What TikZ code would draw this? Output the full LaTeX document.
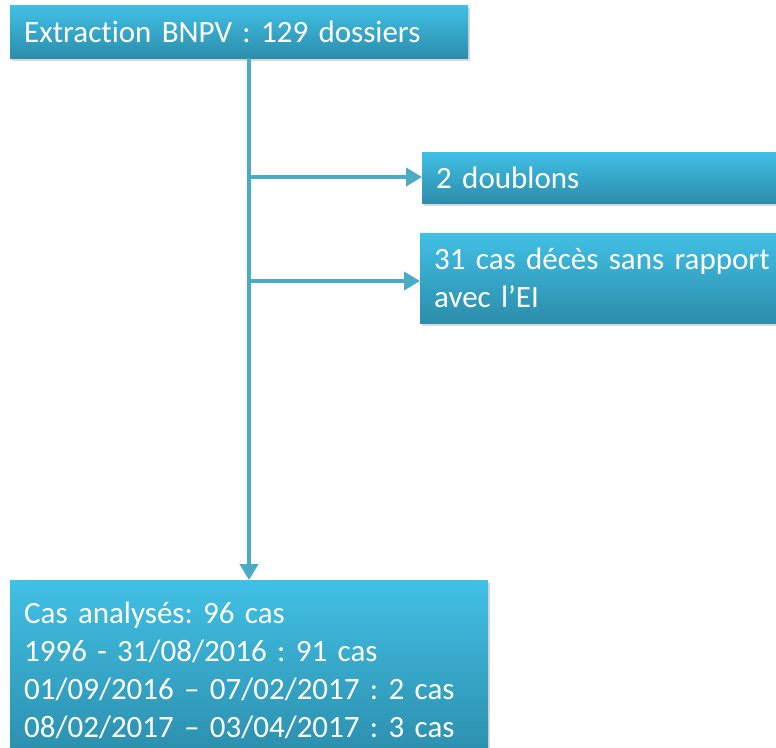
\documentclass[tikz,border=0pt]{standalone}
\usepackage{xcolor}
\usepackage{fontspec}
\setmainfont[Ligatures=NoCommon]{Carlito}
\frenchspacing
\usetikzlibrary{shadows, arrows.meta, positioning}

\definecolor{boxtop}{HTML}{41C0E5}
\definecolor{boxbottom}{HTML}{2C8DAB}
\definecolor{flowline}{HTML}{4AABC6}

\tikzset{
  flowbox/.style={rectangle, anchor=north west, inner xsep=14pt, align=left,
    top color=boxtop, bottom color=boxbottom, draw=none, text=white,
    font=\fontsize{31}{38}\selectfont,
    drop shadow={shadow xshift=2pt, shadow yshift=-3pt, opacity=0.3}},
  flowarrow/.style={draw=flowline, line width=4pt, -{Triangle[length=16pt,width=18pt]}}
}

\begin{document}
\begin{tikzpicture}[x=1pt,y=-1pt]
      \useasboundingbox (0,0) rectangle (776,747);
      \fill[white] (0,0) rectangle (776,747);
      \node[flowbox, minimum width=458pt, text width=430pt, minimum height=53pt] (bnpv) at (10,5) {Extraction BNPV : 129 dossiers};
      \node[flowbox, minimum width=380pt, text width=352pt, minimum height=51pt] (doublons) at (422,152) {2 doublons};
      \node[flowbox, minimum width=380pt, text width=352pt, minimum height=90pt] (deces) at (420,233) {31 cas décès sans rapport\\avec l’EI};
      \node[flowbox, minimum width=478pt, text width=450pt, minimum height=180pt] (cas) at (10,580) {Cas analysés: 96 cas\\1996 - 31/08/2016 : 91 cas\\01/09/2016 – 07/02/2017 : 2 cas\\08/02/2017 – 03/04/2017 : 3 cas};
      \coordinate (trunk) at (249,58);
      \coordinate (b1) at (249,177);
      \coordinate (b2) at (249,281);
      \path[flowarrow] (bnpv.south -| trunk) -- (cas.north -| trunk);
      \path[flowarrow] (b1) -- (b1 -| doublons.west);
      \path[flowarrow] (b2) -- (b2 -| deces.west);
\end{tikzpicture}
\end{document}
